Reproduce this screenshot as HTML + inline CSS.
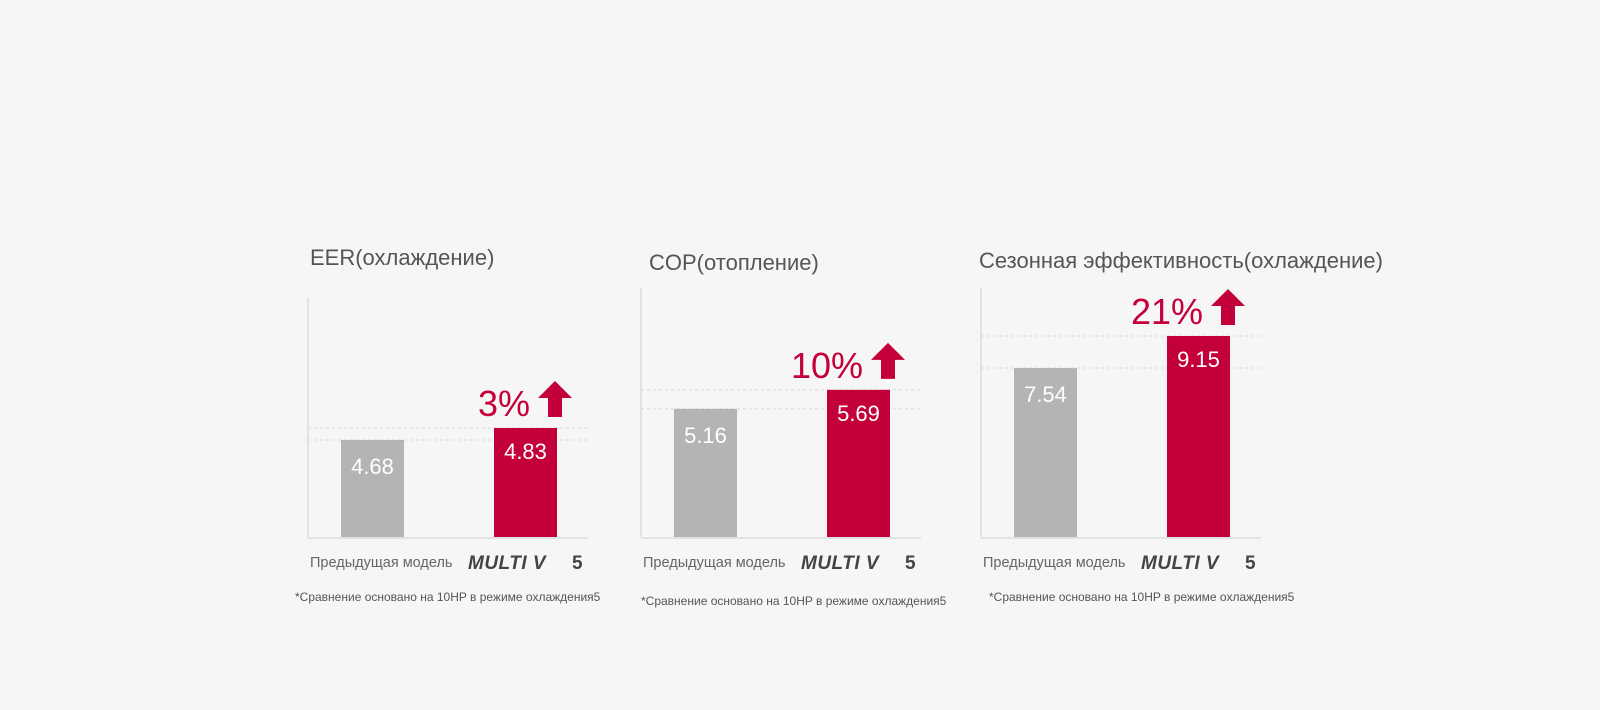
<!DOCTYPE html>
<html><head><meta charset="utf-8"><style>
html,body{margin:0;padding:0;background:#f6f6f6;width:1600px;height:710px;overflow:hidden}
svg{display:block;font-family:"Liberation Sans","DejaVu Sans",sans-serif}
</style></head><body>
<svg id="chart" width="1600" height="710"></svg>
<script>
const titles = ["EER(охлаждение)", "COP(отопление)", "Сезонная эффективность(охлаждение)"];
const prevValues = [4.68, 5.16, 7.54];
const newValues = [4.83, 5.69, 9.15];
const percentLabels = ["3%", "10%", "21%"];
const catLabel = "Предыдущая модель";
const footnote = "*Сравнение основано на 10HP в режиме охлаждения5";

const NS = "http://www.w3.org/2000/svg";
const svg = document.getElementById('chart');
function mk(tag, attrs, parent){const e=document.createElementNS(NS,tag);for(const k in attrs)e.setAttribute(k,attrs[k]);(parent||svg).appendChild(e);return e;}
// panel layout: axis x, title pos, axis top, per-panel value scale (zero value and px/unit)
const panels = [
 {ax:308, tx:310, ty:265, top:298, zero:3.467, ppu:80, fx:295, fy:601},
 {ax:641, tx:649, ty:270, top:288, zero:1.58, ppu:35.8, fx:641, fy:605},
 {ax:981, tx:979, ty:268, top:288, zero:-0.95, ppu:19.9, fx:989, fy:601}
];
const base = 537, RED = "#c4003a", GREY = "#b4b4b4";
panels.forEach((p,i)=>{
  const g = mk('g',{});
  
  
  const y = v => base - (v - p.zero) * p.ppu;
  const t = mk('text',{x:p.tx,y:p.ty,'font-size':22,fill:'#555'},g); t.textContent=titles[i];
   
  const ya = mk('line',{x1:p.ax,y1:p.top,x2:p.ax,y2:base,stroke:'#e2e2e2','stroke-width':2},g);
   
  const xa = mk('line',{x1:p.ax,y1:base+1,x2:p.ax+280,y2:base+1,stroke:'#e2e2e2','stroke-width':2},g);
   
  [prevValues[i], newValues[i]].forEach(v=>{
    const l = mk('line',{x1:p.ax,y1:y(v),x2:p.ax+280,y2:y(v),stroke:'#d8d8d8','stroke-dasharray':'3,3'},g);
     
  });
  const bw = 63, gx = p.ax+33, rx = p.ax+186;
  const b1 = mk('rect',{x:gx,y:y(prevValues[i]),width:bw,height:base-y(prevValues[i]),fill:GREY},g);
   
  const b2 = mk('rect',{x:rx,y:y(newValues[i]),width:bw,height:base-y(newValues[i]),fill:RED},g);
   
  const v1 = mk('text',{x:gx+bw/2,y:y(prevValues[i])+34,'font-size':22,fill:'#fff','text-anchor':'middle'},g); v1.textContent=prevValues[i].toFixed(2);
   
  const v2 = mk('text',{x:rx+bw/2,y:y(newValues[i])+31,'font-size':22,fill:'#fff','text-anchor':'middle'},g); v2.textContent=newValues[i].toFixed(2);
   
  const ty = y(newValues[i]) - 12;
  const pc = mk('text',{x:rx+bw-27,y:ty,'font-size':36,fill:RED,'text-anchor':'end'},g); pc.textContent=percentLabels[i];
   
  const ax0 = rx+bw-19, at = ty-35;
  const ar = mk('polygon',{points:`${ax0},${at+17} ${ax0+17},${at} ${ax0+34},${at+17} ${ax0+24},${at+17} ${ax0+24},${at+36} ${ax0+10},${at+36} ${ax0+10},${at+17}`,fill:RED},g);
   
  const cl = mk('text',{x:p.ax+2,y:base+30,'font-size':14.5,fill:'#666'},g); cl.textContent=catLabel;
   
  const ml = mk('text',{x:p.ax+160,y:base+32,'font-size':19,'font-weight':'bold','font-style':'italic',fill:'#444','letter-spacing':'0.5'},g); ml.textContent="MULTI V";
   
  const m5 = mk('text',{x:p.ax+264,y:base+32,'font-size':19,'font-weight':'bold',fill:'#444'},g); m5.textContent="5";
   
  const fn = mk('text',{x:p.fx,y:p.fy,'font-size':12,fill:'#555'},g); fn.textContent=footnote;
   
});
</script>
</body></html>
